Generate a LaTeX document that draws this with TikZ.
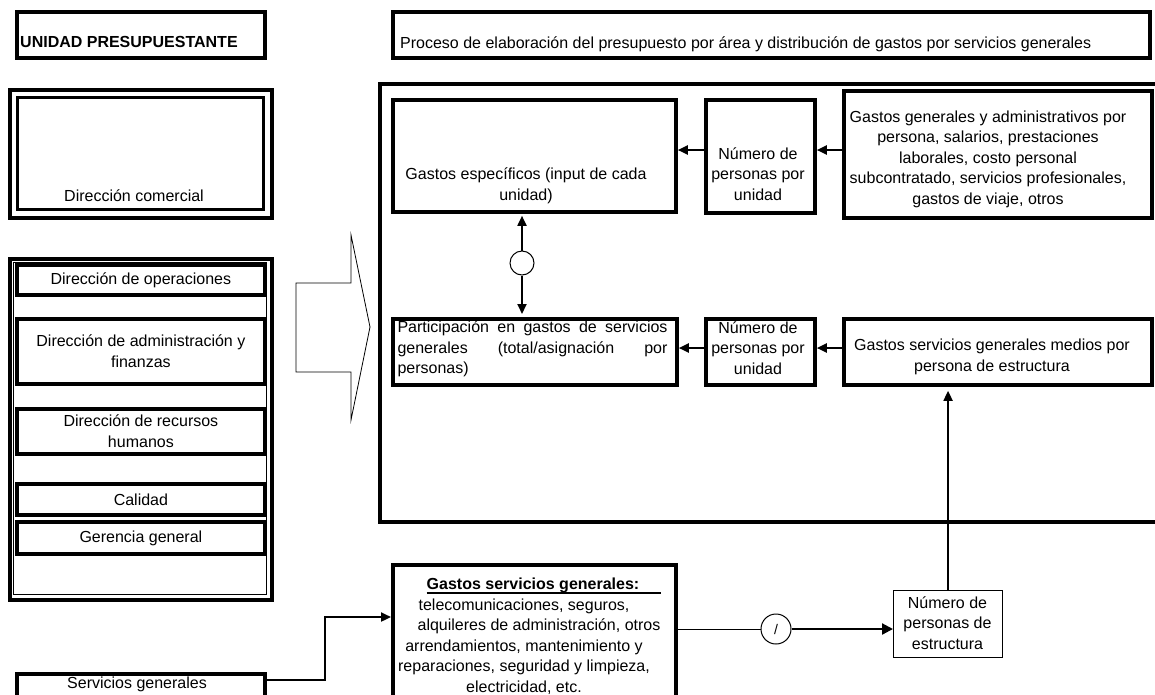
\documentclass[tikz,border=0pt]{standalone}
\usepackage{fontspec}
\setmainfont{Liberation Sans}
\usetikzlibrary{arrows.meta,calc}
\newcommand\ulwide[1]{\setbox0=\hbox{#1}\rlap{\rule[-4pt]{\dimexpr\wd0+22pt\relax}{1.8pt}}\box0\hspace{22pt}}
\begin{document}
\begin{tikzpicture}[x=1pt,y=-1pt,
  font=\fontsize{16}{20.5}\selectfont,
  bx/.style={draw, line width=3.8pt, anchor=north west, inner sep=0pt, align=center},
  thinbx/.style={draw, line width=1.1pt, anchor=north west, inner sep=0pt},
  txt/.style={align=center, inner sep=0pt},
  arr/.style={line width=2pt, -{Triangle[length=10pt,width=9pt]}},
  thinln/.style={line width=0.9pt},
  ring/.style={draw, circle, line width=1pt, inner sep=0pt}
]
\clip (0,0) rectangle (1155,694);
\fill[white] (0,0) rectangle (1155,694);

% headers
\node[bx, minimum width=248pt, minimum height=46pt] (unidad) at (15,10) {};
\node[txt, anchor=west, font=\fontsize{16}{20.5}\selectfont\bfseries] (unidadT) at (20,42) {UNIDAD PRESUPUESTANTE};
\node[bx, minimum width=757pt, minimum height=46pt] (title) at (391,10) {};
\node[txt, anchor=west] (titleT) at (400,44) {Proceso de elaboración del presupuesto por área y distribución de gastos por servicios generales};

% direccion comercial (double border)
\node[bx, line width=3.8pt, minimum width=262pt, minimum height=128pt] (dcomO) at (8,88) {};
\node[bx, line width=2.8pt, minimum width=246pt, minimum height=112pt] (dcomI) at (16,96) {};
\node[txt] (dcomT) at (134,196) {Dirección comercial};

% left big box
\node[bx, line width=3.8pt, minimum width=262pt, minimum height=341pt] (leftO) at (8,257) {};
\node[thinbx, minimum width=253pt, minimum height=332pt] (leftI) at (12.5,261.5) {};
\node[bx, minimum width=248pt, minimum height=30pt] (ops) at (15,263) {Dirección de operaciones};
\node[bx, minimum width=248pt, minimum height=65pt] (adm) at (15,317) {Dirección de administración y\\finanzas};
\node[bx, minimum width=248pt, minimum height=45pt] (rh) at (15,407) {Dirección de recursos\\humanos};
\node[bx, minimum width=248pt, minimum height=31pt] (cal) at (15,482) {Calidad};
\node[bx, minimum width=248pt, minimum height=32pt] (ger) at (15,520) {Gerencia general};

% servicios generales
\node[bx, minimum width=248pt, minimum height=40pt] (sg) at (15,672) {};
\node[txt] (sgT) at (137,684) {Servicios generales};

% hollow arrow
\draw[line width=0.8pt] (296,283) -- (351,283) -- (351,235) -- (370,327) -- (351,420) -- (351,372) -- (296,372) -- cycle;

% big right frame
\node[bx, line width=4.2pt, minimum width=800pt, minimum height=438pt] (bigR) at (378,82) {};

% top row
\node[bx, minimum width=283pt, minimum height=112pt] (ge) at (391,98) {};
\node[txt] (geT) at (526,186) {Gastos específicos (input de cada\\unidad)};
\node[bx, minimum width=109pt, minimum height=113pt] (nt) at (704,98) {};
\node[txt] (ntT) at (758,174) {Número de\\personas por\\unidad};
\node[bx, minimum width=308pt, minimum height=127pt] (gg) at (842,89) {};
\node[txt] (ggT) at (988,159) {Gastos generales y administrativos por\\persona, salarios, prestaciones\\laborales, costo personal\\subcontratado, servicios profesionales,\\gastos de viaje, otros};

% circle between rows
\node[ring, minimum size=24pt] (c1) at (522,263) {};

% bottom row
\node[bx, minimum width=284pt, minimum height=66pt] (pa) at (391,317) {};
\node[txt, align=left] (paT) at (532.5,349) {\makebox[270pt][s]{Participación en gastos de servicios}\\\makebox[270pt][s]{generales (total/asignación por}\\\makebox[270pt][l]{personas)}};
\node[bx, minimum width=109pt, minimum height=66pt] (nb) at (704,317) {};
\node[txt] (nbT) at (758,348) {Número de\\personas por\\unidad};
\node[bx, minimum width=308pt, minimum height=66pt] (ms) at (842,317) {};
\node[txt] (msT) at (992,357) {Gastos servicios generales medios por\\persona de estructura};

% bottom middle box
\node[bx, minimum width=283pt, minimum height=160pt] (gsg) at (391,563) {};
\node[txt] (gsgT) at (524,636) {\hspace*{18pt}\ulwide{\textbf{Gastos servicios generales:}}\\telecomunicaciones, seguros,\\\hspace*{30pt}alquileres de administración, otros\\arrendamientos, mantenimiento y\\reparaciones, seguridad y limpieza,\\electricidad, etc.};

% slash circle and estructura box
\node[ring, minimum size=30pt, font=\fontsize{14}{16}\selectfont] (c2) at (776,629) {/};
\node[thinbx, minimum width=109pt, minimum height=67pt] (est) at (893,590) {};
\node[txt] (estT) at (947.5,623) {Número de\\personas de\\estructura};

% connectors top row
\draw[arr] (gg.west |- 0,150) -- (nt.east |- 0,150);
\draw[arr] (nt.west |- 0,150) -- (ge.east |- 0,150);
% connectors bottom row
\draw[arr] (ms.west |- 0,348) -- (nb.east |- 0,348);
\draw[arr] (nb.west |- 0,348) -- (pa.east |- 0,348);
% circle arrows
\draw[arr, line width=1.8pt, shorten >=2pt] (c1.north) -- (c1.north |- ge.south);
\draw[arr, line width=1.8pt, shorten >=3pt] (c1.south) -- (c1.south |- pa.north);

% servicios generales -> gastos servicios generales
\coordinate (sgout) at ($(sg.north east)+(0,8)$);
\coordinate (bend) at (325,617);
\draw[arr, line width=2.2pt] (sgout) -| (bend) -- (bend -| gsg.west);

% gsg -> slash circle -> estructura
\draw[thinln] (gsg.east |- c2) -- (c2.west);
\draw[arr, line width=2.2pt, -{Triangle[length=11pt,width=11pt]}] (c2.east) -- (est.west |- c2);

% estructura -> medios
\draw[arr, line width=2pt, shorten >=4pt] (est.north) -- (est.north |- ms.south);
\end{tikzpicture}
\end{document}
